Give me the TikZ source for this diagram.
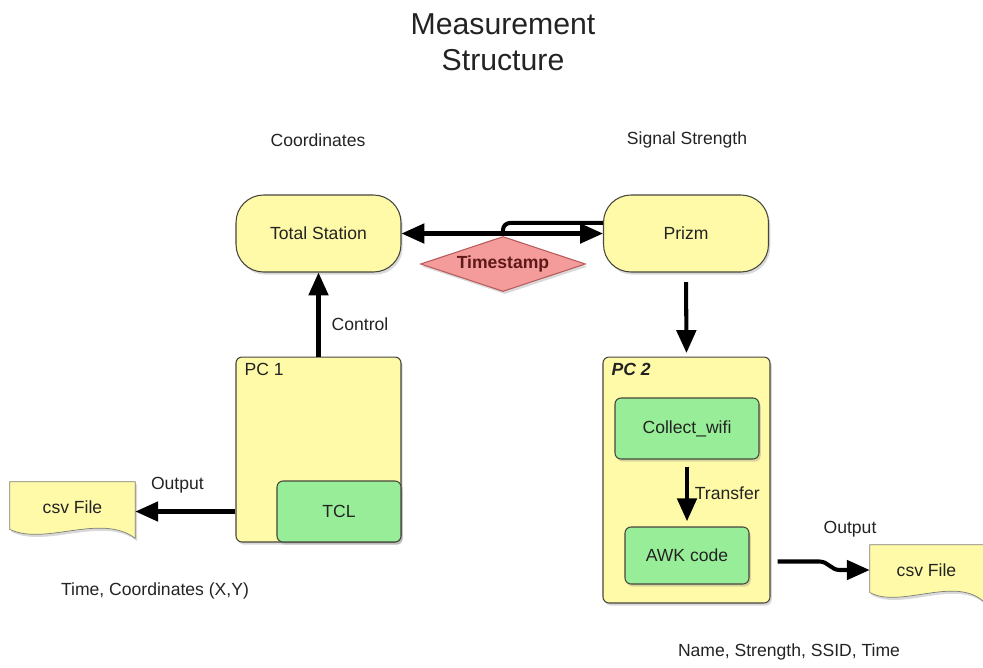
\documentclass[tikz,border=0pt]{standalone}
\usepackage{fontspec}
\setmainfont{Liberation Sans}
\usetikzlibrary{arrows.meta,calc,shadows,shapes.geometric,backgrounds}

\definecolor{boxyellow}{RGB}{255,250,168}
\definecolor{boxgreen}{RGB}{152,238,152}
\definecolor{stampred}{RGB}{244,156,156}
\definecolor{stampline}{RGB}{185,90,90}
\definecolor{stamptext}{RGB}{95,25,25}
\definecolor{edgegrey}{RGB}{70,70,60}
\definecolor{inkgrey}{RGB}{35,35,35}

\tikzset{
	softshadow/.style={drop shadow={shadow xshift=1pt,shadow yshift=-1.5pt,opacity=0.3}},
	lbl/.style={text=inkgrey, font=\fontsize{10}{12}\selectfont},
	unit/.style={lbl, draw=edgegrey, line width=0.6pt, fill=boxyellow, rounded corners=0.55cm,
		minimum width=3.3cm, minimum height=1.54cm, softshadow},
	pcbox/.style={draw=edgegrey, line width=0.6pt, fill=boxyellow, rounded corners=0.12cm, softshadow},
	prog/.style={lbl, draw=edgegrey, line width=0.6pt, fill=boxgreen, rounded corners=0.12cm, softshadow},
	stamp/.style={diamond, aspect=3, inner sep=0pt, minimum width=3.3cm, minimum height=1.1cm,
		draw=stampline, line width=0.6pt, fill=stampred, text=stamptext,
		font=\fontsize{10}{12}\selectfont\bfseries, softshadow},
	docnode/.style={lbl, minimum width=2.5cm, minimum height=1.0cm},
	flow/.style={line width=2.3pt, -{Triangle[length=13pt,width=11pt]}},
	biflow/.style={line width=2.3pt, {Triangle[length=13pt,width=11pt]}-{Triangle[length=13pt,width=11pt]}},
}

% csv sheet: name, position, width
\newcommand\csvsheet[3]{%
	\node[docnode, minimum width=#3] (#1) at (#2) {csv File};
	\begin{pgfonlayer}{background}
		\filldraw[draw=edgegrey!70, line width=0.4pt, fill=boxyellow, softshadow]
			(#1.north west) -- (#1.north east) -- ($(#1.south east)+(0,6)$)
			.. controls ($(#1.south)+(28,-20)$) and ($(#1.south)+(-27,14)$) .. ($(#1.south west)+(0,-3)$) -- cycle;
	\end{pgfonlayer}
}

\begin{document}
\begin{tikzpicture}[x=0.02cm, y=-0.02cm]
		%%%%% START %%%%%
		\useasboundingbox (0,0) rectangle (983,667);
		
		\node[align=center, text=inkgrey, font=\fontsize{17.2}{20.5}\selectfont] (title) at (503,42) {Measurement\\Structure};
		
		\node[lbl] (coordcap) at (318,140) {Coordinates};
		\node[lbl] (sigcap) at (687,140) {Signal Strength};
		
		\node[unit] (total) at (318.5,233.5) {Total Station};
		\node[unit] (prizm) at (686,233.5) {Prizm};
		\node[stamp] (stamp) at (503,264) {Timestamp};
		
		\draw[biflow] (total.east) -- (prizm.west);
		\draw[line width=2.3pt, rounded corners=4pt] ([yshift=6pt]prizm.west) -| (stamp.north);
		
		% left computer
		\node[pcbox, minimum width=3.3cm, minimum height=3.7cm] (pc1) at (318.5,449.5) {};
		\node[lbl, anchor=north west] (pc1tag) at ($(pc1.north west)+(3,1)$) {PC 1};
		\node[prog, minimum width=2.48cm, minimum height=1.22cm] (tcl) at (339,511.5) {TCL};
		
		\draw[flow] (pc1.north) -- node[lbl, right=3pt, pos=0.38] (ctrllbl) {Control} (total.south);
		
		\csvsheet{csvleft}{72.5,507}{2.5cm}
		\draw[flow] (pc1.west |- tcl.west) -- node[lbl, above=6pt, pos=0.58] (outleft) {Output} (csvleft.east |- tcl.west);
		\node[lbl] (tscap) at (155,591) {Time, Coordinates (X,Y)};
		
		% right computer
		\node[pcbox, minimum width=3.34cm, minimum height=4.92cm] (pc2) at (686.5,480) {};
		\node[lbl, anchor=north west, font=\fontsize{10}{12}\selectfont\bfseries\itshape] (pc2tag) at ($(pc2.north west)+(3,1)$) {PC 2};
		\node[prog, minimum width=2.88cm, minimum height=1.22cm] (collect) at (687,428.5) {Collect\_wifi};
		\node[prog, minimum width=2.48cm, minimum height=1.14cm] (awk) at (687,555.5) {AWK code};
		
		\draw[flow, shorten <=5.5pt, shorten >=2pt] (prizm.south) -- (pc2.north);
		\draw[flow, shorten <=4pt, shorten >=3pt] (collect.south) -- node[lbl, right] (xferlbl) {Transfer} (awk.north);
		
		\csvsheet{csvright}{926.5,570}{2.26cm}
		\coordinate (awkout) at ($(pc2.east |- awk.east)+(7,6)$);
		\draw[flow] (awkout) -- ++(42,0) to[out=0,in=180] ($(csvright.west)+(-30,0)$) -- (csvright.west);
		\node[lbl] (outright) at (850,529) {Output};
		\node[lbl] (namecap) at (789,652) {Name, Strength, SSID, Time};
		
		%%%%% END %%%%%
\end{tikzpicture}
\end{document}
